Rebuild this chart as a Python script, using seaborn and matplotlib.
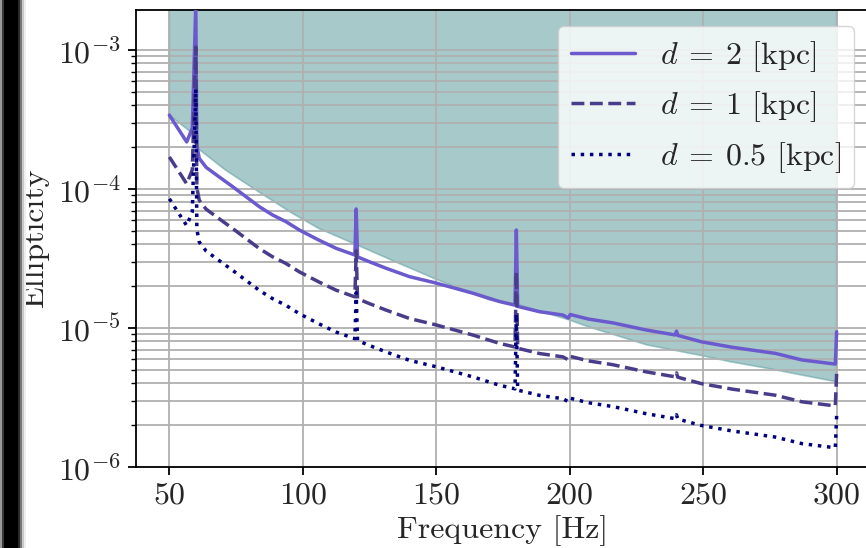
import numpy as np
import pandas as pd
import matplotlib
matplotlib.use("Agg")
import matplotlib.pyplot as plt
from matplotlib.patches import Rectangle
from matplotlib.ticker import LogLocator, FixedLocator, NullFormatter
import seaborn as sns

# ---------------- data ----------------
freq = [50, 56.5, 58.6, 59.9, 60.3, 61.2, 63.8, 68.7, 73.7, 78.7, 83.7, 88.7,
        93.7, 98.7, 106, 112.5, 119.5, 120, 120.5, 124.3, 131.2, 140, 149.3,
        155, 163.7, 173.7, 179.5, 180, 180.5, 188.7, 197.4, 199.5, 200.2, 207,
        216, 228.7, 239.5, 240, 240.5, 249.3, 261, 277, 287, 299.5, 300]

ell_d2 = [3.40e-4, 2.18e-4, 2.75e-4, 2.1e-3, 2.05e-4, 1.66e-4, 1.43e-4, 1.22e-4,
          1.04e-4, 8.81e-5, 7.46e-5, 6.50e-5, 5.82e-5, 5.07e-5, 4.29e-5, 3.74e-5,
          3.35e-5, 7.18e-5, 3.25e-5, 3.03e-5, 2.69e-5, 2.34e-5, 2.12e-5, 1.98e-5,
          1.78e-5, 1.55e-5, 1.46e-5, 5.07e-5, 1.43e-5, 1.31e-5, 1.24e-5, 1.18e-5,
          1.25e-5, 1.16e-5, 1.09e-5, 9.67e-6, 8.91e-6, 9.5e-6, 8.85e-6, 7.96e-6,
          7.26e-6, 6.57e-6, 5.89e-6, 5.50e-6, 9.4e-6]

ell_d1 = [1.70e-4, 1.09e-4, 1.375e-4, 1.05e-3, 1.025e-4, 8.3e-5, 7.15e-5, 6.1e-5,
          5.2e-5, 4.405e-5, 3.73e-5, 3.25e-5, 2.91e-5, 2.535e-5, 2.145e-5, 1.87e-5,
          1.675e-5, 3.59e-5, 1.625e-5, 1.515e-5, 1.345e-5, 1.17e-5, 1.06e-5, 9.9e-6,
          8.9e-6, 7.75e-6, 7.3e-6, 2.535e-5, 7.15e-6, 6.55e-6, 6.2e-6, 5.9e-6,
          6.25e-6, 5.8e-6, 5.45e-6, 4.835e-6, 4.455e-6, 4.75e-6, 4.425e-6, 3.98e-6,
          3.63e-6, 3.285e-6, 2.945e-6, 2.75e-6, 4.7e-6]

ell_d05 = [8.5e-5, 5.45e-5, 6.875e-5, 5.25e-4, 5.125e-5, 4.15e-5, 3.575e-5, 3.05e-5,
           2.6e-5, 2.2025e-5, 1.865e-5, 1.625e-5, 1.455e-5, 1.2675e-5, 1.0725e-5, 9.35e-6,
           8.375e-6, 1.795e-5, 8.125e-6, 7.575e-6, 6.725e-6, 5.85e-6, 5.3e-6, 4.95e-6,
           4.45e-6, 3.875e-6, 3.65e-6, 1.2675e-5, 3.575e-6, 3.275e-6, 3.1e-6, 2.95e-6,
           3.125e-6, 2.9e-6, 2.725e-6, 2.4175e-6, 2.2275e-6, 2.375e-6, 2.2125e-6, 1.99e-6,
           1.815e-6, 1.6425e-6, 1.4725e-6, 1.375e-6, 2.35e-6]

# lower boundary of the shaded (excluded) region
freq_sens = [50, 58, 60.5, 71, 84, 96, 106, 119, 136, 150, 170, 180, 200, 207,
             229, 250, 260, 274, 300]
ell_sens = [3.40e-4, 2.57e-4, 1.97e-4, 1.37e-4, 9.4e-5, 6.7e-5, 5.2e-5, 4.06e-5,
            2.92e-5, 2.24e-5, 1.59e-5, 1.49e-5, 1.14e-5, 1.02e-5, 7.55e-6, 6.3e-6,
            5.73e-6, 5.13e-6, 4.1e-6]
shade_top = 1.0

labels = [r"$d\:=\:2$ [kpc]", r"$d\:=\:1$ [kpc]", r"$d\:=\:0.5$ [kpc]"]
xticks = [50, 100, 150, 200, 250, 300]

# ---------------- style ----------------
sns.set_theme(style="white")
plt.rcParams.update({
    "font.family": "serif",
    "font.serif": ["cmr10", "DejaVu Serif"],
    "mathtext.fontset": "cm",
    "axes.formatter.use_mathtext": True,
    "axes.unicode_minus": False,
    "font.size": 23,
})

fig = plt.figure(figsize=(8.66, 5.48), dpi=100)
ax = fig.add_axes([136 / 866, 81 / 548, 734 / 866, 457 / 548])
ax.set_facecolor("white")

ax.fill_between(freq_sens, ell_sens, shade_top, color="cadetblue", alpha=0.55,
                lw=1.2, zorder=1)

df = pd.DataFrame({"f": freq, "d2": ell_d2, "d1": ell_d1, "d05": ell_d05})
lw = 2.5
sns.lineplot(data=df, x="f", y="d2", ax=ax, color="#6a5acd", lw=lw,
             label=labels[0], zorder=3)
sns.lineplot(data=df, x="f", y="d1", ax=ax, color="#483d8b", lw=lw,
             linestyle="--", label=labels[1], zorder=3)
sns.lineplot(data=df, x="f", y="d05", ax=ax, color="#000080", lw=lw,
             linestyle=":", label=labels[2], zorder=3)

ax.set_yscale("log")
ax.set_xlim(37.5, 312.5)
ax.set_ylim(1e-6, 1.94e-3)
ax.xaxis.set_major_locator(FixedLocator(xticks))
ax.yaxis.set_major_locator(LogLocator(base=10, numticks=10))
ax.yaxis.set_minor_locator(LogLocator(base=10, subs=np.arange(2, 10), numticks=20))
ax.yaxis.set_minor_formatter(NullFormatter())

ax.set_axisbelow("line")
ax.grid(True, which="major", axis="both", color="#b0b0b0", lw=1.3)
ax.grid(True, which="minor", axis="y", color="#b0b0b0", lw=1.3)

ax.tick_params(axis="both", which="major", direction="out", length=5.8, width=1.3,
               color="black", labelsize=23, left=True, bottom=True, pad=5)
ax.tick_params(axis="y", which="minor", direction="out", length=3.3, width=1.0,
               color="black", left=True)
for s in ax.spines.values():
    s.set_color("black")
    s.set_linewidth(1.3)

ax.set_xlabel("Frequency [Hz]", fontsize=23, labelpad=4)
ax.set_ylabel("Ellipticity", fontsize=23, labelpad=6)

leg = ax.legend(loc="upper right", fontsize=23, framealpha=0.8, fancybox=True,
                handlelength=2.0, borderaxespad=0.5)
leg.get_frame().set_edgecolor("#cccccc")

# dark screen-capture edge at the far left of the reference image
edge = [(0, 2, "#9a9a9a"), (2, 4, "#3a3a3a"), (4, 18, "#000000"),
        (18, 20, "#2a2a2a"), (20, 22, "#777777"), (22, 24, "#c8c8c8"),
        (24, 26, "#eeeeee")]
for x0, x1, c in edge:
    fig.add_artist(Rectangle((x0 / 866, 0), (x1 - x0) / 866, 1,
                             transform=fig.transFigure, color=c, lw=0, zorder=10))

fig.savefig("out.png", dpi=100)
